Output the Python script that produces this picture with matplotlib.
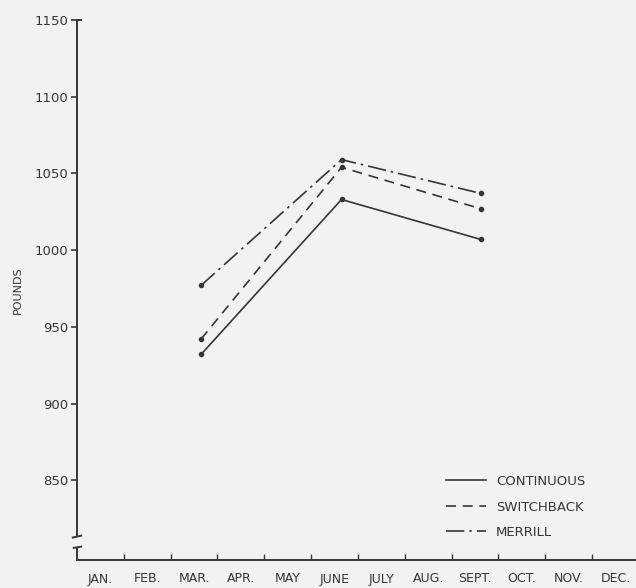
import matplotlib
matplotlib.use("Agg")
import matplotlib.pyplot as plt
from matplotlib.ticker import FixedLocator, NullFormatter

# Month axis labels (each month occupies one unit, Jan = [0, 1])
months = ["JAN.", "FEB.", "MAR.", "APR.", "MAY", "JUNE",
          "JULY", "AUG.", "SEPT.", "OCT.", "NOV.", "DEC."]

# Weighing dates expressed in month units
weigh_dates = [2.65, 5.65, 8.62]

# Average weights (pounds) per grazing system
continuous = [932, 1033, 1007]
switchback = [942, 1054, 1027]
merrill = [977, 1059, 1037]

y_ticks = [850, 900, 950, 1000, 1050, 1100, 1150]

ink = "#363636"
paper = "#f2f2f0"

plt.rcParams["font.family"] = ["DejaVu Sans"]

fig = plt.figure(figsize=(6.36, 5.88), dpi=100, facecolor=paper)
ax = fig.add_axes([77 / 636, 28 / 588, 1 - 77 / 636, 540 / 588])
ax.set_facecolor(paper)

ax.set_xlim(0, 11.94)
ax.set_ylim(798, 1150)

lw = 1.2
ax.plot(weigh_dates, continuous, color=ink, lw=lw, ls="-",
        marker="o", ms=3, label="CONTINUOUS")
ax.plot(weigh_dates, switchback, color=ink, lw=lw, ls=(0, (6, 4)),
        marker="o", ms=3, label="SWITCHBACK")
ax.plot(weigh_dates, merrill, color=ink, lw=lw, ls=(0, (11, 3, 1.5, 3)),
        marker="o", ms=3, label="MERRILL")

# Axis frame with a broken vertical axis near the bottom
for side in ("left", "right", "top"):
    ax.spines[side].set_visible(False)
ax.spines["bottom"].set_color(ink)
ax.spines["bottom"].set_linewidth(1.4)

frame = dict(color=ink, lw=1.4, clip_on=False, solid_capstyle="butt")
ax.plot([0, 0], [1150, 813.5], **frame)
ax.plot([-0.11, 0.11], [812.5, 814.0], **frame)
ax.plot([-0.09, 0.11], [805.8, 806.8], **frame)
ax.plot([0, 0], [806.2, 798], **frame)
ax.plot([0, 0.1], [1150, 1150], **frame)

ax.yaxis.set_major_locator(FixedLocator(y_ticks))
ax.set_yticklabels([str(v) for v in y_ticks])
ax.tick_params(axis="y", direction="out", length=4, width=1.2,
               color=ink, labelcolor=ink, labelsize=9.5, pad=2)

ax.xaxis.set_major_locator(FixedLocator(range(1, 12)))
ax.xaxis.set_major_formatter(NullFormatter())
ax.xaxis.set_minor_locator(FixedLocator([i + 0.5 for i in range(12)]))
ax.set_xticklabels(months, minor=True)
ax.tick_params(axis="x", which="major", direction="in", length=4,
               width=1.0, color=ink)
ax.tick_params(axis="x", which="minor", length=0, pad=9,
               labelcolor=ink, labelsize=9)

fig.text(18 / 636, 1 - 290 / 588, "POUNDS", rotation=90, ha="center",
         va="center", fontsize=8, color=ink)

leg = ax.legend(loc="upper left", bbox_to_anchor=(446 / 636, 1 - 475 / 588),
                bbox_transform=fig.transFigure, frameon=False,
                fontsize=9.5, handlelength=3.0, handletextpad=0.8,
                labelspacing=0.95, borderpad=0, borderaxespad=0)
for h in leg.legend_handles:
    h.set_marker("")
for t in leg.get_texts():
    t.set_color(ink)

fig.savefig("out.png", dpi=100, facecolor=paper)
